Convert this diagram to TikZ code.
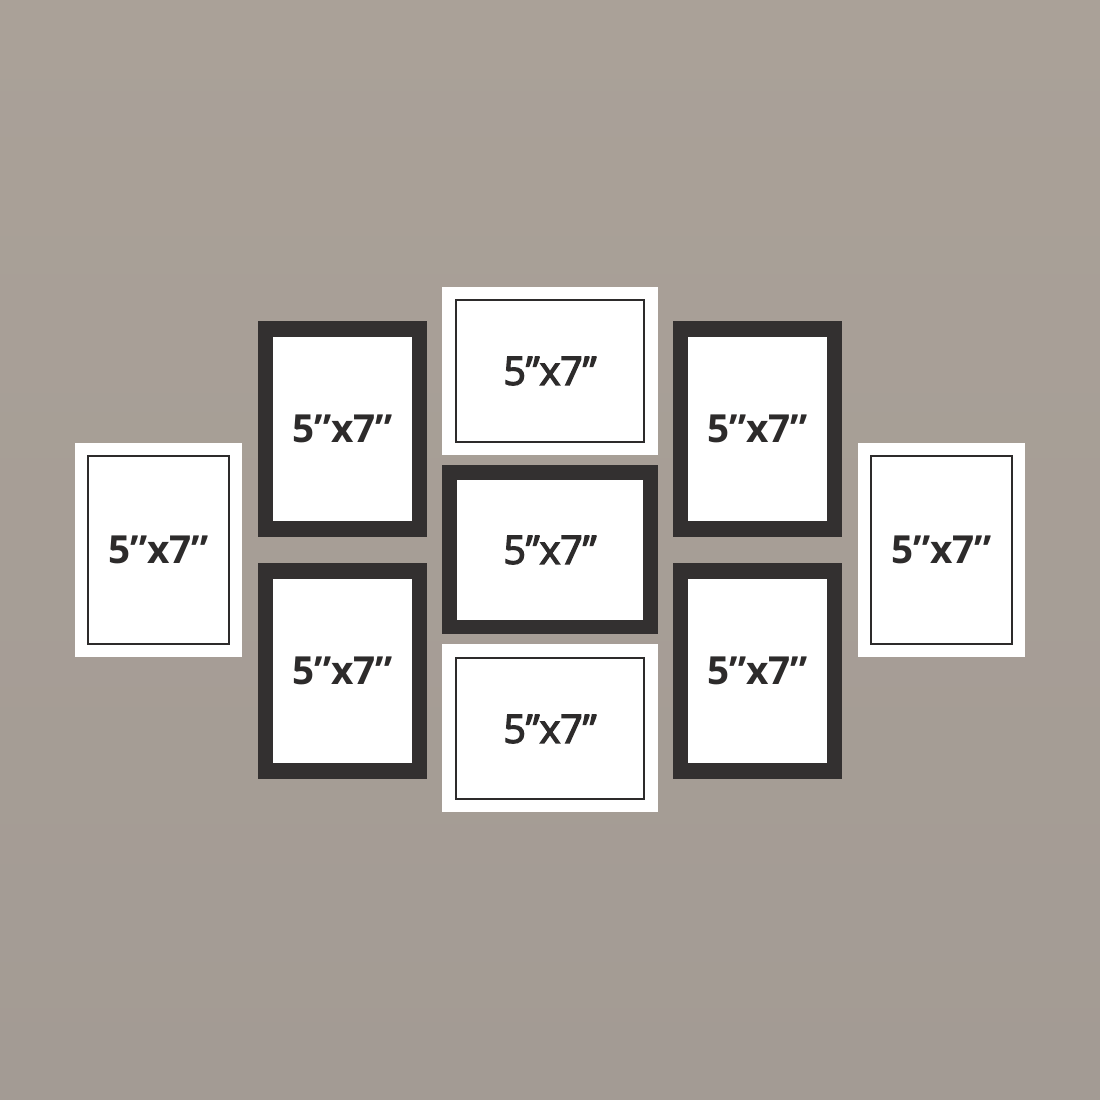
\documentclass[tikz,border=0pt]{standalone}
\usepackage{fontspec}
\newfontfamily\sizebold{Open Sans}[UprightFont=* Bold]
\newfontfamily\sizesemi{Open Sans}
\newcommand\semiink[1]{\special{pdf:literal direct 2 Tr 1.0 w}#1\special{pdf:literal direct 0 Tr}}
\definecolor{wallgray}{RGB}{170,161,152}
\definecolor{walldark}{RGB}{163,155,148}
\definecolor{framegray}{RGB}{51,48,48}
\definecolor{inkgray}{RGB}{45,43,43}

\begin{document}
\begin{tikzpicture}[x=0.75pt,y=0.75pt,yscale=-1,xscale=1,
	blackframe/.style={fill=framegray,draw=none},
	whiteframe/.style={fill=white,draw=none},
	photo/.style={fill=white,draw=none},
	mat/.style={fill=white,draw=inkgray,line width=1.1},
	sidesize/.style={inner sep=0.75pt,text=inkgray,font=\sizebold\fontsize{29}{30}\selectfont},
	midsize/.style={inner sep=0.75pt,text=inkgray,font=\sizesemi\fontsize{29.5}{30}\selectfont}]
	\useasboundingbox (0,0) rectangle (1100,1100);
	%wall
	\shade [top color=wallgray,bottom color=walldark] (0,0) rectangle (1100,1100);
	%left white frame
	\draw [whiteframe] (75,443) rectangle (242,657);
	\draw [mat] (88,456) rectangle (229,644);
	\draw (158.5,550) node (lw) [sidesize] {5”x7”};
	%left black frames
	\draw [blackframe] (258,321) rectangle (427,537);
	\draw [photo] (273,337) rectangle (412,521);
	\draw (342.5,429) node (lbt) [sidesize] {5”x7”};
	\draw [blackframe] (258,563) rectangle (427,779);
	\draw [photo] (273,579) rectangle (412,763);
	\draw (342.5,671) node (lbb) [sidesize] {5”x7”};
	%center column
	\draw [whiteframe] (442,287) rectangle (658,455);
	\draw [mat] (456,300) rectangle (644,442);
	\draw (550,371) node (ct) [midsize] {\semiink{5”x7”}};
	\draw [blackframe] (442,465) rectangle (658,634);
	\draw [photo] (457,480) rectangle (643,620);
	\draw (550,550) node (cm) [midsize] {\semiink{5”x7”}};
	\draw [whiteframe] (442,644) rectangle (658,812);
	\draw [mat] (456,658) rectangle (644,799);
	\draw (550,729) node (cb) [midsize] {\semiink{5”x7”}};
	%right black frames
	\draw [blackframe] (673,321) rectangle (842,537);
	\draw [photo] (688,337) rectangle (827,521);
	\draw (757.5,429) node (rbt) [sidesize] {5”x7”};
	\draw [blackframe] (673,563) rectangle (842,779);
	\draw [photo] (688,579) rectangle (827,763);
	\draw (757.5,671) node (rbb) [sidesize] {5”x7”};
	%right white frame
	\draw [whiteframe] (858,443) rectangle (1025,657);
	\draw [mat] (871,456) rectangle (1012,644);
	\draw (941.5,550) node (rw) [sidesize] {5”x7”};
\end{tikzpicture}
\end{document}
